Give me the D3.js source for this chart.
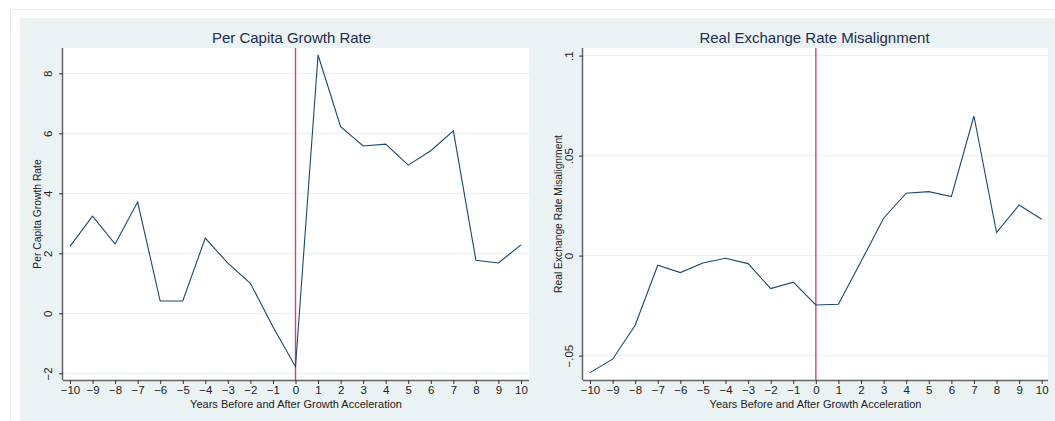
<!DOCTYPE html>
<html><head><meta charset="utf-8">
<script src="https://cdn.jsdelivr.net/npm/d3@7"></script>
<style>body{margin:0;background:#fff;} svg{display:block;font-family:"Liberation Sans",Arial,sans-serif;}</style>
</head><body>
<svg id="c" width="1055" height="421"></svg>
<script>
const years = [-10,-9,-8,-7,-6,-5,-4,-3,-2,-1,0,1,2,3,4,5,6,7,8,9,10];
const growth = [2.23,3.24,2.31,3.71,0.41,0.41,2.51,1.67,1.0,-0.45,-1.78,8.61,6.22,5.58,5.64,4.94,5.42,6.08,1.77,1.68,2.28];
const misalign = [-0.0585,-0.0518,-0.0348,-0.0048,-0.0085,-0.0037,-0.0013,-0.004,-0.0165,-0.0133,-0.0247,-0.0243,-0.003,0.0187,0.0312,0.032,0.0295,0.0698,0.0115,0.0253,0.0182];
const growthTicks = [-2,0,2,4,6,8];
const growthTickLabels = ["\u22122","0","2","4","6","8"];
const misTicks = [-0.05,0,0.05,0.1];
const misTickLabels = ["\u2212.05","0",".05",".1"];
const xTickLabels = years.map(v => v < 0 ? "\u2212" + Math.abs(v) : String(v));
const titles = ["Per Capita Growth Rate","Real Exchange Rate Misalignment"];
const xTitle = "Years Before and After Growth Acceleration";

const svg = d3.select("#c");
svg.append("rect").attr("x",10.5).attr("y",9.5).attr("width",1050).attr("height",420).attr("fill","#fff").attr("stroke","#e6ecec");
svg.append("rect").attr("x",20).attr("y",18).attr("width",1035).attr("height",403).attr("fill","#eaf2f3");

function panel(cfg){
  const {left,right,top,bottom,ydom,yvals,ticks,tickLabels,title,ylabel,ylabX,tickLabX,titleX} = cfg;
  const x = d3.scaleLinear().domain([-10,10]).range([cfg.x0, cfg.x1]);
  const y = d3.scaleLinear().domain(ydom).range([bottom, top]);
  const g = svg.append("g");
  g.append("rect").attr("x",left).attr("y",top).attr("width",right-left).attr("height",bottom-top).attr("fill","#fff");
  g.selectAll("line.grid").data(ticks).join("line")
    .attr("x1",left).attr("x2",right).attr("y1",d=>y(d)).attr("y2",d=>y(d))
    .attr("stroke","#e8f0f0").attr("stroke-width",1);
  g.append("line").attr("x1",x(0)).attr("x2",x(0)).attr("y1",top).attr("y2",bottom)
    .attr("stroke","#d6456a").attr("stroke-width",1.4);
  const line = d3.line().x((d,i)=>x(years[i])).y(d=>y(d));
  g.append("path").datum(yvals).attr("d",line).attr("fill","none").attr("stroke","#1a476f").attr("stroke-width",1.1);
  const xa = g.append("g").attr("transform",`translate(0,${bottom})`)
    .call(d3.axisBottom(x).tickValues(years).tickSize(4).tickPadding(2).tickFormat((d,i)=>xTickLabels[i]));
  xa.select(".domain").attr("d",`M${left},0.5H${right}`).attr("stroke","#666").attr("stroke-width",1.5);
  xa.selectAll(".tick line").attr("stroke","#333");
  xa.selectAll(".tick text").attr("font-size",11.5).attr("fill","#222").attr("font-family",null);
  const ya = g.append("g").attr("transform",`translate(${left},0)`)
    .call(d3.axisLeft(y).tickValues(ticks).tickSize(4).tickFormat((d,i)=>tickLabels[i]));
  ya.select(".domain").attr("d",`M-0.5,${top}V${bottom}`).attr("stroke","#666").attr("stroke-width",1.5);
  ya.selectAll(".tick line").attr("stroke","#333");
  ya.selectAll(".tick text").attr("font-size",11.5).attr("fill","#222").attr("font-family",null)
    .attr("x",null).attr("dy",null).attr("text-anchor","middle")
    .attr("transform",`translate(${tickLabX-left},0) rotate(-90)`).attr("dominant-baseline","central");
  g.append("text").attr("x",titleX).attr("y",37).attr("text-anchor","middle").attr("dominant-baseline","central")
    .attr("font-size",15).attr("fill","#1e2d4f").text(title);
  g.append("text").attr("x",(left+right)/2).attr("y",404).attr("text-anchor","middle").attr("dominant-baseline","central")
    .attr("font-size",11).attr("fill","#222").text(xTitle);
  g.append("text").attr("transform",`translate(${ylabX},${(top+bottom)/2}) rotate(-90)`).attr("text-anchor","middle")
    .attr("dominant-baseline","central").attr("font-size",10.3).attr("fill","#222").text(ylabel);
}

panel({left:63,right:529,top:48,bottom:380,x0:70,x1:521,ydom:[-2.222,8.844],yvals:growth,ticks:growthTicks,tickLabels:growthTickLabels,
  title:titles[0],ylabel:"Per Capita Growth Rate",ylabX:37,tickLabX:48,titleX:291.5});
panel({left:583,right:1048,top:48,bottom:380,x0:590,x1:1041.7,ydom:[-0.0622,0.1038],yvals:misalign,ticks:misTicks,tickLabels:misTickLabels,
  title:titles[1],ylabel:"Real Exchange Rate Misalignment",ylabX:558,tickLabX:569,titleX:814.5});
</script>
</body></html>
